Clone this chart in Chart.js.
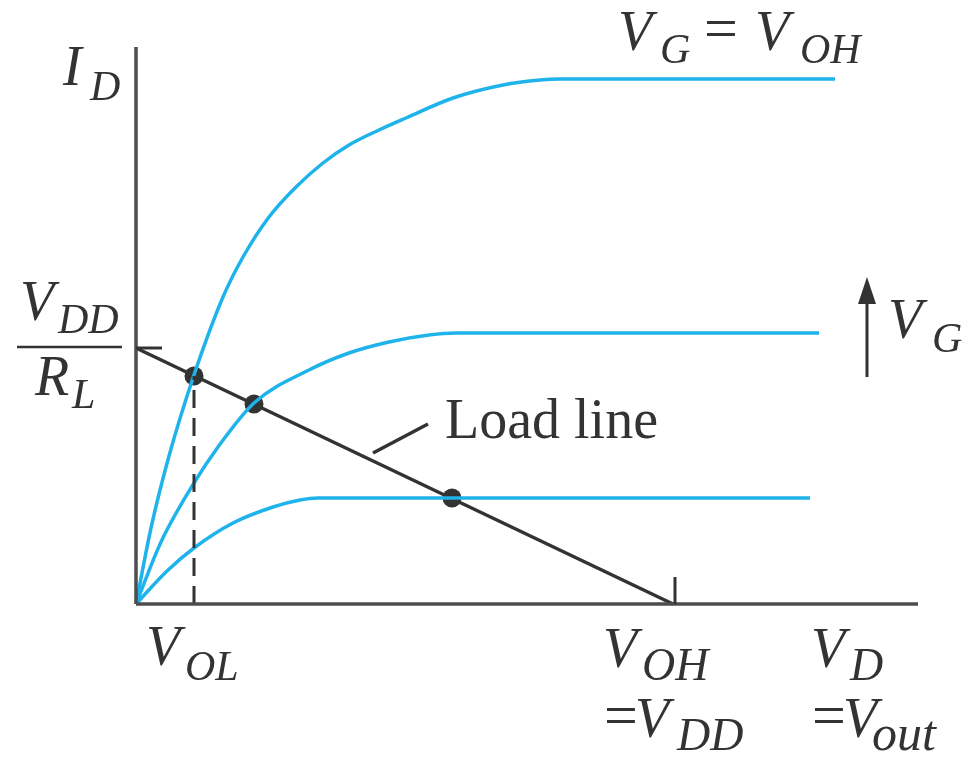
<!DOCTYPE html>
<html>
<head>
<meta charset="utf-8">
<script src="https://cdn.jsdelivr.net/npm/chart.js@4.4.0/dist/chart.umd.min.js"></script>
<style>
  body { margin: 0; background: #fff; }
</style>
</head>
<body>
<canvas id="loadChart" width="978" height="763"></canvas>
<script>
// Drain characteristics (VD, ID) for three gate voltages, arbitrary units
const curveHighX = [0, 15, 33, 58, 87, 107, 133, 160, 187, 213, 243, 270, 317, 367, 404, 424, 699];
const curveHighY = [0, 76, 148, 229, 307, 347, 387, 417, 441, 459, 474, 486, 506, 519, 524, 525, 525];

const curveMidX = [0, 25, 58, 82, 118, 173, 213, 253, 293, 320, 683];
const curveMidY = [0, 62, 121, 157, 201, 234, 251, 262, 269, 271, 271];

const curveLowX = [0, 31, 58, 97, 137, 164, 182, 674];
const curveLowY = [0, 33, 56, 81, 97, 104, 106, 106];

// Load line runs from VDD/RL on the ID axis down to VDD on the VD axis
const VDD = 537;
const VDD_OVER_RL = 256;

// Operating points where the load line crosses each curve
const opX = [58, 118, 316];
const opY = [228, 200, 106];

// VOL sits under the first operating point
const VOL = 58;

const X_MAX = 782;
const Y_MAX = 559;

const toPoints = (xs, ys) => xs.map((x, i) => ({ x: x, y: ys[i] }));

const BLUE = "#1fb3eb";
const INK = "#333333";
const AXIS = "#4d4d4d";
const SERIF = "'Liberation Serif', 'DejaVu Serif', serif";

// Draw a piece of text with its left edge at x and baseline at y
function txt(ctx, s, x, y, size, italic) {
    ctx.font = (italic ? "italic " : "") + size + "px " + SERIF;
    ctx.fillText(s, x, y);
}

function seg(ctx, x1, y1, x2, y2, w, color) {
    ctx.beginPath();
    ctx.moveTo(x1, y1);
    ctx.lineTo(x2, y2);
    ctx.lineWidth = w;
    ctx.strokeStyle = color;
    ctx.stroke();
}

const annotations = {
    id: "annotations",
    afterDatasetsDraw(chart) {
        const ctx = chart.ctx;
        const xs = chart.scales.x;
        const ys = chart.scales.y;
        ctx.save();
        ctx.lineCap = "butt";

        // small tick marks at VDD and VDD/RL
        const tx = xs.getPixelForValue(VDD);
        seg(ctx, tx + 2, ys.getPixelForValue(0), tx + 2, ys.getPixelForValue(27), 3, INK);
        const ty = ys.getPixelForValue(VDD_OVER_RL);
        seg(ctx, xs.getPixelForValue(0), ty, xs.getPixelForValue(26), ty, 3, INK);

        // leader for the load line label
        seg(ctx, 373, 453, 428, 424, 3.5, INK);

        // arrow showing increasing VG
        seg(ctx, 867, 377, 867, 298, 3, INK);
        ctx.beginPath();
        ctx.moveTo(867, 277);
        ctx.lineTo(876, 304);
        ctx.lineTo(858, 304);
        ctx.closePath();
        ctx.fillStyle = INK;
        ctx.fill();

        ctx.fillStyle = INK;
        ctx.textBaseline = "alphabetic";
        ctx.textAlign = "left";

        // axis titles
        txt(ctx, "I", 63, 85, 56, true);
        txt(ctx, "D", 90, 100, 42, true);

        txt(ctx, "V", 618, 50, 56, true);
        txt(ctx, "G", 660, 63, 42, true);
        txt(ctx, "=", 704, 48, 60, false);
        txt(ctx, "V", 755, 50, 56, true);
        txt(ctx, "OH", 800, 63, 42, true);

        // VDD / RL fraction
        txt(ctx, "V", 20, 320, 56, true);
        txt(ctx, "DD", 58, 333, 42, true);
        seg(ctx, 17, 347, 122, 347, 2.5, INK);
        txt(ctx, "R", 35, 395, 56, true);
        txt(ctx, "L", 72, 408, 42, true);

        txt(ctx, "Load line", 445, 438, 56, false);

        txt(ctx, "V", 888, 338, 56, true);
        txt(ctx, "G", 932, 352, 42, true);

        // labels under the VD axis
        txt(ctx, "V", 146, 665, 56, true);
        txt(ctx, "OL", 185, 680, 42, true);

        txt(ctx, "V", 603, 667, 56, true);
        txt(ctx, "OH", 642, 680, 46, true);
        txt(ctx, "=", 604, 735, 60, false);
        txt(ctx, "V", 635, 737, 56, true);
        txt(ctx, "DD", 677, 750, 46, true);

        txt(ctx, "V", 811, 667, 56, true);
        txt(ctx, "D", 850, 680, 46, true);
        txt(ctx, "=", 812, 735, 60, false);
        txt(ctx, "V", 843, 737, 56, true);
        txt(ctx, "out", 872, 750, 50, true);

        ctx.restore();
    }
};

document.addEventListener("DOMContentLoaded", () => {
    const ctx = document.getElementById("loadChart").getContext("2d");

    const curve = (xs, ys) => ({
        data: toPoints(xs, ys),
        borderColor: BLUE,
        borderWidth: 3.5,
        pointRadius: 0,
        cubicInterpolationMode: "monotone",
        fill: false,
        clip: false
    });

    const straight = (pts, color, width, dash) => ({
        data: pts,
        borderColor: color,
        borderWidth: width,
        borderDash: dash || [],
        pointRadius: 0,
        tension: 0,
        fill: false,
        clip: false
    });

    new Chart(ctx, {
        type: "line",
        data: {
            datasets: [
                // axes
                straight([{ x: 0, y: 0 }, { x: X_MAX, y: 0 }], AXIS, 3.5),
                straight([{ x: 0, y: 0 }, { x: 0, y: Y_MAX - 2 }], AXIS, 3.5),
                // dashed drop from the first operating point to VOL
                straight([{ x: VOL, y: 0 }, { x: VOL, y: opY[0] }], INK, 3, [18, 10]),
                curve(curveLowX, curveLowY),
                curve(curveMidX, curveMidY),
                curve(curveHighX, curveHighY),
                straight([{ x: 0, y: VDD_OVER_RL }, { x: VDD, y: 0 }], INK, 3.5),
                {
                    data: toPoints(opX, opY),
                    showLine: false,
                    pointRadius: 9.5,
                    pointBackgroundColor: INK,
                    pointBorderWidth: 0,
                    clip: false
                }
            ]
        },
        options: {
            responsive: false,
            animation: false,
            layout: { padding: { left: 136, right: 60, top: 45, bottom: 159 } },
            plugins: {
                legend: { display: false },
                tooltip: { enabled: false }
            },
            scales: {
                x: { type: "linear", min: 0, max: X_MAX, display: false },
                y: { type: "linear", min: 0, max: Y_MAX, display: false }
            }
        },
        plugins: [annotations]
    });
});
</script>
</body>
</html>
